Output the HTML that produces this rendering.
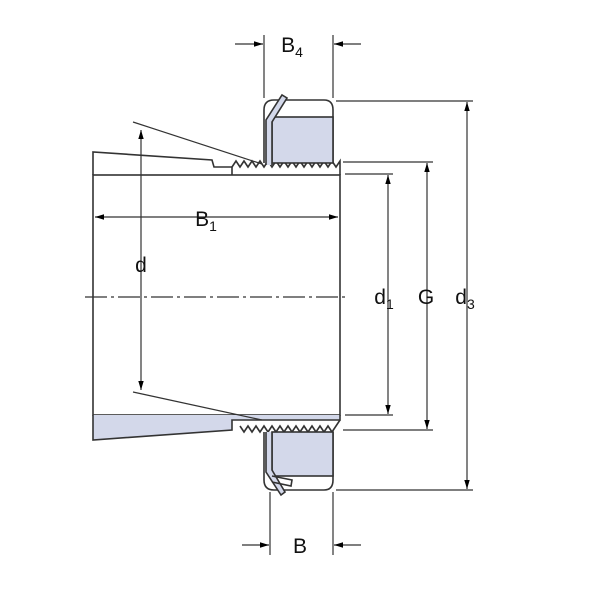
<!DOCTYPE html>
<html><head><style>body{margin:0;background:#fff}svg{display:block}</style></head>
<body>
<svg width="600" height="600" viewBox="0 0 600 600" xmlns="http://www.w3.org/2000/svg" font-family="Liberation Sans, sans-serif">
<defs>
<marker id="a" viewBox="0 0 10 10" refX="10" refY="5" markerWidth="9" markerHeight="9" markerUnits="userSpaceOnUse" orient="auto-start-reverse"><path d="M0,2 L10,5 L0,8 z" fill="#000"/></marker>
</defs>
<g stroke="#333" stroke-width="1.6" fill="none">
<rect x="93" y="175" width="247" height="240" fill="#fff"/>
<path d="M93,175 L93,152 L212,160 L214,167 L232,167 L232,175" />
<path d="M93,415 L93,440 L232,430 L232,420 L340,420 L340,415" fill="#d3d8ea"/>
<polyline points="232,167 236,161 240,167 244,161 248,167 252,161 256,167 260,161 264,167 268,161 272,167 276,161 280,167 284,161 288,167 292,161 296,167 300,161 304,167 308,161 312,167 316,161 320,167 324,161 328,167 332,161 336,167 340,161 340,175"/>
<polyline points="240,426 244,432 248,426 252,432 256,426 260,432 264,426 268,432 272,426 276,432 280,426 284,432 288,426 292,432 296,426 300,432 304,426 308,432 312,426 316,432 320,426 324,432 328,426 332,432 336,426 340,420"/>
<path d="M264,163 L264,110 Q264,100 274,100 L324,100 Q333,100 333,110 L333,163" />
<rect x="272" y="117" width="61" height="46" fill="#d3d8ea"/>
<path d="M266,165 L266,120 L282,95 L287,98 L272,122 L272,165" fill="#d3d8ea"/>
<path d="M264,432 L264,480 Q264,490 274,490 L324,490 Q333,490 333,480 L333,432" />
<rect x="272" y="432" width="61" height="44" fill="#d3d8ea"/>
<path d="M266,432 L266,472 L281,495 L285,492 L272,470 L272,432" fill="#d3d8ea"/>
<path d="M272,476 L292,480 L291,486 L272,482"/>
</g>
<g stroke="#333" stroke-width="1.2" fill="none">
<line x1="133" y1="122" x2="262" y2="164"/>
<line x1="133" y1="392" x2="262" y2="420"/>
<line x1="85" y1="297" x2="345" y2="297" stroke-dasharray="22,4,3,4"/>
<line x1="141" y1="130" x2="141" y2="390" marker-start="url(#a)" marker-end="url(#a)"/>
<line x1="95" y1="217" x2="338" y2="217" marker-start="url(#a)" marker-end="url(#a)"/>
<line x1="264" y1="35" x2="264" y2="98"/><line x1="333" y1="35" x2="333" y2="98"/>
<line x1="235" y1="44" x2="263" y2="44" marker-end="url(#a)"/><line x1="361" y1="44" x2="334" y2="44" marker-end="url(#a)"/>
<line x1="270" y1="492" x2="270" y2="555"/><line x1="333" y1="492" x2="333" y2="555"/>
<line x1="242" y1="545" x2="269" y2="545" marker-end="url(#a)"/><line x1="361" y1="545" x2="334" y2="545" marker-end="url(#a)"/>
<line x1="336" y1="101" x2="473" y2="101"/><line x1="336" y1="490" x2="473" y2="490"/>
<line x1="467" y1="102" x2="467" y2="489" marker-start="url(#a)" marker-end="url(#a)"/>
<line x1="343" y1="162" x2="433" y2="162"/><line x1="343" y1="430" x2="433" y2="430"/>
<line x1="427" y1="163" x2="427" y2="429" marker-start="url(#a)" marker-end="url(#a)"/>
<line x1="345" y1="174" x2="393" y2="174"/><line x1="345" y1="415" x2="393" y2="415"/>
<line x1="388" y1="175" x2="388" y2="414" marker-start="url(#a)" marker-end="url(#a)"/>
</g>
<g font-size="21" fill="#111" text-anchor="middle">
<text x="292" y="52">B<tspan font-size="14" dy="5">4</tspan></text>
<text x="300" y="553">B</text>
<text x="206" y="226">B<tspan font-size="14" dy="5">1</tspan></text>
<text x="141" y="272">d</text>
<text x="384" y="304">d<tspan font-size="14" dy="5">1</tspan></text>
<text x="426" y="304">G</text>
<text x="465" y="304">d<tspan font-size="14" dy="5">3</tspan></text>
</g>
</svg>
</body></html>
